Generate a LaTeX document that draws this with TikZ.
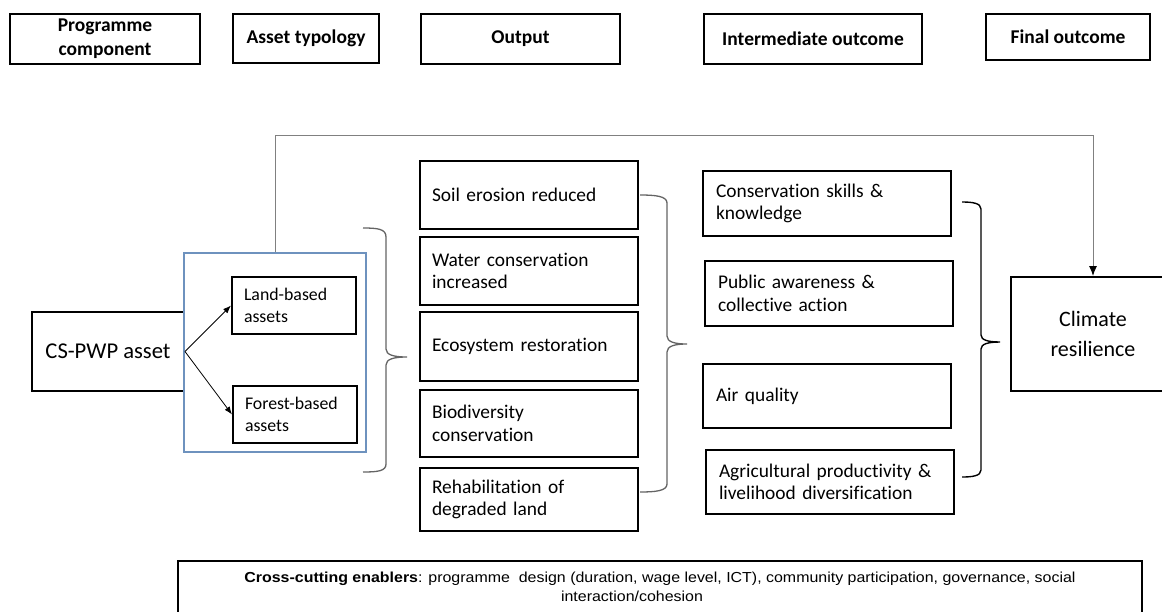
\documentclass[tikz,border=0pt]{standalone}
\usepackage{fontspec}
\setmainfont{Carlito}[Ligatures=NoCommon]
\newfontfamily\arialfont{Liberation Sans}
\usetikzlibrary{arrows.meta}
\definecolor{boxblue}{RGB}{110,146,190}
\definecolor{linegray}{RGB}{128,128,128}
\definecolor{bracegray}{RGB}{100,100,100}
\tikzset{
  hdr/.style={draw=black, line width=1.6pt, align=center, inner sep=0pt,
    font=\fontsize{19.5}{24}\selectfont\bfseries},
  obox/.style={draw=black, line width=2pt, align=left, inner ysep=0pt, inner xsep=12pt,
    text width=194pt, minimum width=218pt, font=\fontsize{19.4}{22.5}\selectfont},
  ibox/.style={draw=black, line width=2pt, align=left, inner ysep=0pt, inner xsep=13pt,
    text width=222pt, minimum width=248pt, font=\fontsize{19.4}{22.5}\selectfont},
  abox/.style={draw=black, line width=2pt, align=left, inner ysep=0pt, inner xsep=12pt,
    text width=100pt, minimum width=124pt, minimum height=57pt, font=\fontsize{17.8}{22}\selectfont},
  conn/.style={draw=linegray, line width=1pt},
  arr/.style={-{Latex[length=8pt,width=6pt]}, line width=0.8pt, black},
  bracestyle/.style={draw=bracegray, line width=1.3pt},
}
\begin{document}
\begin{tikzpicture}[x=1pt,y=-1pt]
\useasboundingbox (0,0) rectangle (1162,611);
% headers
\node[hdr, minimum width=190pt, minimum height=50pt] (hprog) at (105,39) {Programme\\component};
\node[hdr, minimum width=146pt, minimum height=49pt] (hasset) at (306,38.5) {Asset typology};
\node[hdr, minimum width=199pt, minimum height=50pt] (hout) at (520.5,39) {Output};
\node[hdr, minimum width=218pt, minimum height=50pt] (hint) at (813,39) {Intermediate outcome};
\node[hdr, minimum width=164pt, minimum height=46pt] (hfin) at (1068,37) {Final outcome};
% left part
\node[draw=black, line width=2pt, minimum width=152pt, minimum height=79pt, inner sep=0pt,
  font=\fontsize{22.6}{26}\selectfont] (cspwp) at (108,351.5) {CS-PWP asset};
\node[draw=boxblue, line width=1.3pt, minimum width=182pt, minimum height=199pt, inner sep=0pt] (blue) at (275,352.5) {};
\node[abox] (land) at (294,305.5) {Land-based\\assets};
\node[abox] (forest) at (295,414.5) {Forest-based\\assets};
\draw[arr] (cspwp.east) -- (land.west);
\draw[arr] (cspwp.east) -- (forest.west);
% outputs
\node[obox, minimum height=68pt] (soil) at (529,195) {Soil erosion reduced};
\node[obox, minimum height=68pt] (water) at (529,271) {Water conservation\\increased};
\node[obox, minimum height=69pt] (eco) at (529,346.5) {Ecosystem restoration};
\node[obox, minimum height=67pt] (bio) at (529,423.5) {Biodiversity\\conservation};
\node[obox, minimum height=63pt] (rehab) at (529,499.5) {Rehabilitation of\\degraded land};
% intermediate
\node[ibox, minimum height=65pt] (cons) at (827,203.5) {Conservation skills \&\\knowledge};
\node[ibox, minimum height=65pt] (public) at (829,293.5) {Public awareness \&\\collective action};
\node[ibox, minimum height=64pt] (air) at (827,396) {Air quality};
\node[ibox, minimum height=64pt] (agri) at (830,482) {Agricultural productivity \&\\livelihood diversification};
% final
\node[draw=black, line width=2pt, minimum width=164pt, minimum height=114pt, inner sep=0pt, align=center,
  font=\fontsize{22}{30}\selectfont] (climate) at (1093,334) {Climate\\resilience};
% top connector
\coordinate (topL) at (275,135);
\coordinate (topR) at (1093,135);
\draw[conn] (blue.north) -- (topL) -- (topR);
\draw[conn, -{Latex[length=10pt,width=8pt,color=black]}] (topR) -- (climate.north);
% braces
\draw[bracestyle] (363,228) .. controls (378,228) and (386,229) .. (386,237) -- (386,349)
  .. controls (386,355) and (394,357) .. (407,357)
  .. controls (394,357) and (386,359) .. (386,365) -- (386,464)
  .. controls (386,471) and (378,472) .. (363,472);
\draw[bracestyle] (640,195) .. controls (655,195) and (667,196) .. (667,203) -- (667,336)
  .. controls (667,342) and (675,344) .. (687,344)
  .. controls (675,344) and (667,346) .. (667,352) -- (667,484)
  .. controls (667,491) and (655,492) .. (640,492);
\draw[draw=black, line width=1.4pt] (962,202) .. controls (972,202) and (981,203) .. (981,209) -- (981,335)
  .. controls (981,340) and (988,342) .. (1000,342)
  .. controls (988,342) and (981,344) .. (981,349) -- (981,470)
  .. controls (981,476) and (972,477) .. (962,477);
% bottom
\node[draw=black, line width=1.6pt, minimum width=964pt, minimum height=52pt, inner sep=0pt, align=center,
  font=\arialfont\fontsize{14.5}{19.5}\selectfont] (enablers) at (660,587)
  {\makebox[834pt][c]{\scalebox{1.1}[1]{\textbf{Cross-cutting enablers}: programme\ \ design (duration, wage level, ICT), community participation, governance, social}}\\
   \makebox[834pt][c]{\hspace{-56pt}\scalebox{1.1}[1]{interaction/cohesion}}};
\end{tikzpicture}
\end{document}
